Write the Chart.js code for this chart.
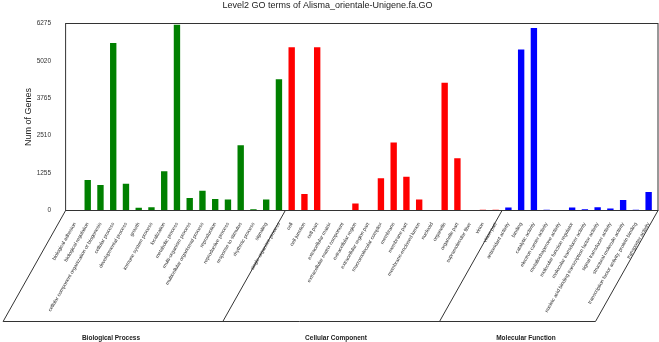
<!DOCTYPE html>
<html>
<head>
<meta charset="utf-8">
<script src="https://cdn.jsdelivr.net/npm/chart.js@4.4.1/dist/chart.umd.min.js"></script>
<style>
  html, body { margin: 0; padding: 0; background: #fff; }
  #wrap { width: 659px; height: 342px; }
</style>
</head>
<body>
<div id="wrap"><canvas id="goChart" width="659" height="342"></canvas></div>
<script>
// GO level 2 terms, three groups
const bioTerms = ['biological adhesion', 'biological regulation', 'cellular component organization or biogenesis',
  'cellular process', 'developmental process', 'growth', 'immune system process', 'localization',
  'metabolic process', 'multi-organism process', 'multicellular organismal process', 'reproduction',
  'reproductive process', 'response to stimulus', 'rhythmic process', 'signaling', 'single-organism process'];
const bioGenes = [10, 1020, 855, 5620, 900, 95, 105, 1315, 6235, 420, 660, 385, 365, 2190, 45, 365, 4405];

const cellTerms = ['cell', 'cell junction', 'cell part', 'extracellular matrix', 'extracellular matrix component',
  'extracellular region', 'extracellular region part', 'macromolecular complex', 'membrane', 'membrane part',
  'membrane-enclosed lumen', 'nucleoid', 'organelle', 'organelle part', 'supramolecular fiber', 'virion', 'virion part'];
const cellGenes = [5480, 550, 5480, 2, 2, 235, 3, 1080, 2280, 1135, 370, 3, 4290, 1750, 18, 22, 22];

const molTerms = ['antioxidant activity', 'binding', 'catalytic activity', 'electron carrier activity',
  'metallochaperone activity', 'molecular function regulator', 'molecular transducer activity',
  'nucleic acid binding transcription factor activity', 'signal transducer activity',
  'structural molecule activity', 'transcription factor activity, protein binding', 'transporter activity'];
const molGenes = [100, 5400, 6120, 22, 2, 100, 40, 110, 65, 350, 25, 620];

const groupNames = ['Biological Process', 'Cellular Component', 'Molecular Function'];
const yTicks = [0, 1255, 2510, 3765, 5020, 6275];

const allTerms = bioTerms.concat(cellTerms, molTerms);
const nB = bioTerms.length, nC = cellTerms.length, nM = molTerms.length;
const pad = (arr, before, after) => Array(before).fill(null).concat(arr, Array(after).fill(null));

const FONT = '"Liberation Sans", Arial, sans-serif';

// frame, group brackets and group names under the axis
const bracketPlugin = {
  id: 'brackets',
  afterDraw(chart) {
    const ctx = chart.ctx;
    const a = chart.chartArea;
    const x = chart.scales.x;
    const L = a.left - 3, R = a.right + 3;
    const b1 = (x.getPixelForValue(nB - 1) + x.getPixelForValue(nB)) / 2;
    const b2 = (x.getPixelForValue(nB + nC - 1) + x.getPixelForValue(nB + nC)) / 2;
    const base = 321.5, dx = 62.5;
    ctx.save();
    ctx.strokeStyle = '#333';
    ctx.lineWidth = 1;
    ctx.strokeRect(L, a.top, R - L, a.bottom - a.top);
    ctx.beginPath();
    [L, b1, b2, R].forEach(b => {
      ctx.moveTo(b, a.bottom);
      ctx.lineTo(b - dx, base);
    });
    ctx.moveTo(L - dx, base);
    ctx.lineTo(R - dx, base);
    ctx.stroke();
    ctx.fillStyle = '#222';
    ctx.font = 'bold 6.5px ' + FONT;
    ctx.textAlign = 'center';
    ctx.textBaseline = 'middle';
    const labelX = [111, 336, 526];
    groupNames.forEach((g, i) => ctx.fillText(g, labelX[i], 338));
    ctx.restore();
  }
};

new Chart(document.getElementById('goChart'), {
  type: 'bar',
  data: {
    labels: allTerms,
    datasets: [
      { data: pad(bioGenes, 0, nC + nM), backgroundColor: '#008000' },
      { data: pad(cellGenes, nB, nM), backgroundColor: '#ff0000' },
      { data: pad(molGenes, nB + nC, 0), backgroundColor: '#0000ff' }
    ]
  },
  options: {
    responsive: false,
    devicePixelRatio: 1,
    animation: false,
    skipNull: true,
    datasets: { bar: { categoryPercentage: 1, barPercentage: 0.5 } },
    layout: { padding: { left: 0, right: 4, top: 0, bottom: 0 } },
    plugins: {
      legend: { display: false },
      tooltip: { enabled: false },
      title: {
        display: true,
        text: 'Level2 GO terms of Alisma_orientale-Unigene.fa.GO',
        color: '#222',
        font: { family: FONT, size: 9, weight: 'normal' },
        padding: { top: 0, bottom: 12.7 }
      }
    },
    scales: {
      x: {
        grid: { display: false },
        border: { display: false },
        ticks: {
          autoSkip: false,
          minRotation: 60,
          maxRotation: 60,
          padding: 3,
          color: '#333',
          font: { family: FONT, size: 5 }
        },
        afterFit(scale) { scale.height = 131.5; }
      },
      y: {
        min: 0,
        max: 6275,
        grid: { display: false },
        border: { display: false },
        afterBuildTicks(scale) { scale.ticks = yTicks.map(v => ({ value: v })); },
        ticks: {
          padding: 9.5,
          color: '#333',
          font: { family: FONT, size: 6.5 },
          callback: v => String(v)
        },
        title: {
          display: true,
          text: 'Num of Genes',
          color: '#222',
          font: { family: FONT, size: 9 },
          padding: { top: 23.6, bottom: 0 }
        },
        afterFit(scale) { scale.width = 68.6; }
      }
    }
  },
  plugins: [bracketPlugin]
});
</script>
</body>
</html>
